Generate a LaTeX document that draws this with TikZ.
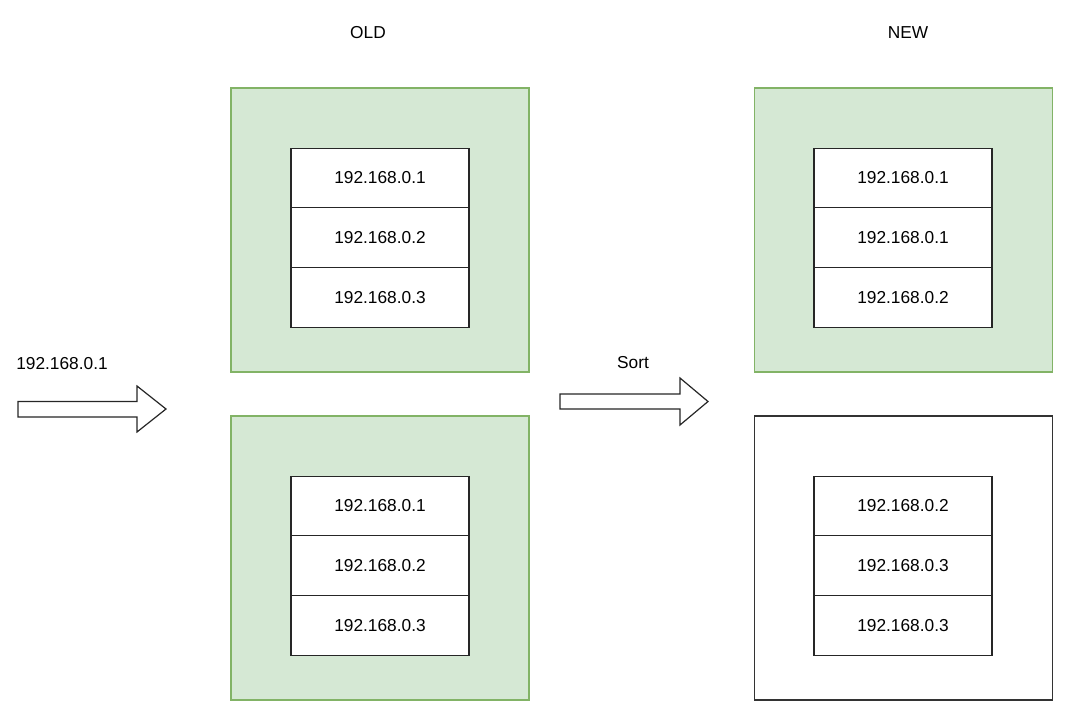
\documentclass[tikz,border=0pt]{standalone}
\usepackage{fontspec}
\setmainfont{Liberation Sans}
\usetikzlibrary{positioning}
\definecolor{boxfill}{HTML}{D5E8D4}
\definecolor{boxline}{HTML}{82B366}

\begin{document}
\begin{tikzpicture}[
           x = 1pt, y = -1pt,
           font = \fontsize{17.3}{20}\selectfont,
  label/.style = {inner sep=0pt},
 oldbox/.style = {draw=boxline, fill=boxfill, line width=1.3pt,
                  minimum width=298pt, minimum height=284pt, inner sep=0pt},
 newbox/.style = {draw=black!80, fill=white, line width=1.3pt,
                  minimum width=298pt, minimum height=284pt, inner sep=0pt},
   cell/.style = {draw=black!85, fill=white, line width=1.2pt,
                  minimum width=178pt, minimum height=59.7pt,
                  inner sep=0pt, outer sep=0pt},
  block/.style = {draw=black!85, fill=white, line width=1.2pt, line join=miter}
                    ]
\useasboundingbox (0,0) rectangle (1080,712);
% titles
    \node[label] (old) at (368,33) {OLD};
    \node[label] (new) at (908,33) {NEW};
% outer boxes
    \node[oldbox] (oldtop) at (380,230) {};
    \node[oldbox] (oldbot) at (380,558) {};
    \node[oldbox] (newtop) at (903.5,230) {};
    \node[newbox] (newbot) at (903.5,558) {};
% old cells
    \node[cell] (oa1) at (380,178) {192.168.0.1};
    \node[cell, below=0pt of oa1] (oa2) {192.168.0.2};
    \node[cell, below=0pt of oa2] (oa3) {192.168.0.3};
    \node[cell] (ob1) at (380,506) {192.168.0.1};
    \node[cell, below=0pt of ob1] (ob2) {192.168.0.2};
    \node[cell, below=0pt of ob2] (ob3) {192.168.0.3};
% new cells
    \node[cell] (na1) at (903,178) {192.168.0.1};
    \node[cell, below=0pt of na1] (na2) {192.168.0.1};
    \node[cell, below=0pt of na2] (na3) {192.168.0.2};
    \node[cell] (nb1) at (903,506) {192.168.0.2};
    \node[cell, below=0pt of nb1] (nb2) {192.168.0.3};
    \node[cell, below=0pt of nb2] (nb3) {192.168.0.3};
% arrows
    \node[label] (ins) at (62,364) {192.168.0.1};
    \draw[block] (18,401.5) -- (137,401.5) -- (137,386) -- (166,409)
        -- (137,432) -- (137,417) -- (18,417) -- cycle;
    \node[label] (sort) at (633,363) {Sort};
    \draw[block] (560,394) -- (680,394) -- (680,378) -- (708,401.5)
        -- (680,425) -- (680,409) -- (560,409) -- cycle;
\end{tikzpicture}
\end{document}
